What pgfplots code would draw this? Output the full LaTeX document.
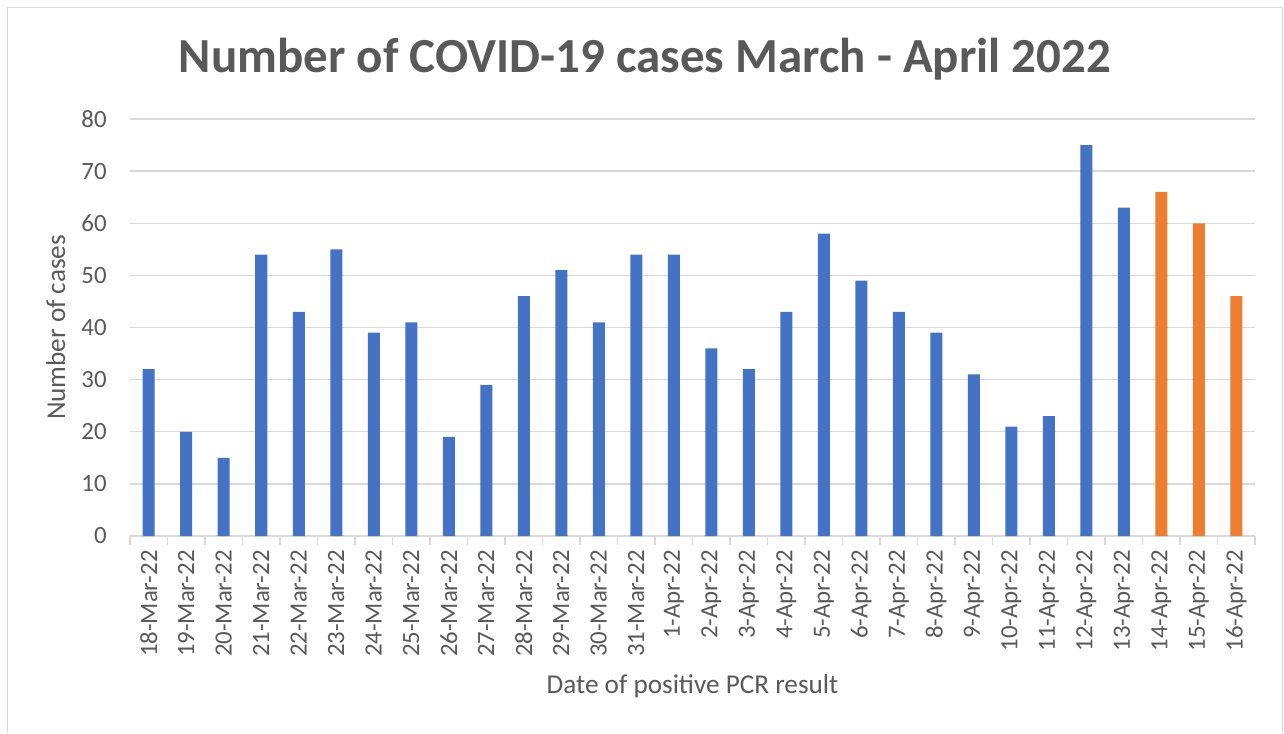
\documentclass[border=0pt]{standalone}
\usepackage{pgfplots}
\pgfplotsset{compat=1.18}
\usepackage{fontspec}
\setmainfont{Carlito}
\definecolor{exblue}{HTML}{4472C4}
\definecolor{exorange}{HTML}{ED7D31}
\definecolor{txtgray}{HTML}{595959}
\definecolor{gridgray}{HTML}{D9D9D9}
\begin{document}
\begin{tikzpicture}
% bounding box and outer frame (1px = 0.5pt, axis lower-left at pixel (130,536))
\path (-65pt,-98.5pt) rectangle (577pt,268pt);
\draw[gridgray, line width=0.8pt] (-61.25pt,-98.5pt) -- (-61.25pt,264.25pt) -- (576.25pt,264.25pt) -- (576.25pt,-98.5pt);
\node[anchor=base, font=\fontsize{24.5}{28}\selectfont\bfseries, text=txtgray] at (257.5pt,231.5pt) {Number of COVID-19 cases March - April 2022};
\begin{axis}[
  at={(0,0)}, anchor=south west,
  scale only axis,
  width=562.5pt, height=208.5pt,
  xmin=-0.5, xmax=29.5,
  ymin=0, ymax=80,
  ytick={0,10,...,80},
  xtick={0,...,29},
  xticklabels={18-Mar-22,19-Mar-22,20-Mar-22,21-Mar-22,22-Mar-22,23-Mar-22,24-Mar-22,25-Mar-22,26-Mar-22,27-Mar-22,28-Mar-22,29-Mar-22,30-Mar-22,31-Mar-22,1-Apr-22,2-Apr-22,3-Apr-22,4-Apr-22,5-Apr-22,6-Apr-22,7-Apr-22,8-Apr-22,9-Apr-22,10-Apr-22,11-Apr-22,12-Apr-22,13-Apr-22,14-Apr-22,15-Apr-22,16-Apr-22},
  minor xtick={-0.5,0.5,...,29.5},
  axis line style={draw=none},
  ymajorgrids,
  grid style={gridgray, line width=0.7pt},
  major tick length=0pt,
  minor tick length=4.5pt,
  xtick align=outside,
  tick pos=bottom,
  minor tick style={gridgray, line width=0.7pt},
  ytick style={draw=none},
  /pgf/number format/assume math mode=true,
  tick label style={font=\fontsize{12.4}{14}\selectfont, text=txtgray},
  xticklabel style={yshift=-7pt, rotate=90, anchor=east, inner sep=0pt},
  yticklabel style={anchor=east, inner sep=0pt, xshift=-11.5pt},
  xlabel={Date of positive PCR result},
  ylabel={Number of cases},
  label style={font=\fontsize{13.6}{15}\selectfont, text=txtgray},
  xlabel style={at={(axis description cs:0.5,-0.36)}, anchor=center},
  ylabel style={at={(axis description cs:-0.066,0.5)}, anchor=center},
  ybar, bar width=6pt, bar shift=0pt,
]
\addplot[fill=exblue, draw=none] coordinates {
(0,32) (1,20) (2,15) (3,54) (4,43) (5,55) (6,39) (7,41) (8,19) (9,29)
(10,46) (11,51) (12,41) (13,54) (14,54) (15,36) (16,32) (17,43) (18,58) (19,49)
(20,43) (21,39) (22,31) (23,21) (24,23) (25,75) (26,63)};
\addplot[fill=exorange, draw=none] coordinates {(27,66) (28,60) (29,46)};
\end{axis}
\end{tikzpicture}
\end{document}
